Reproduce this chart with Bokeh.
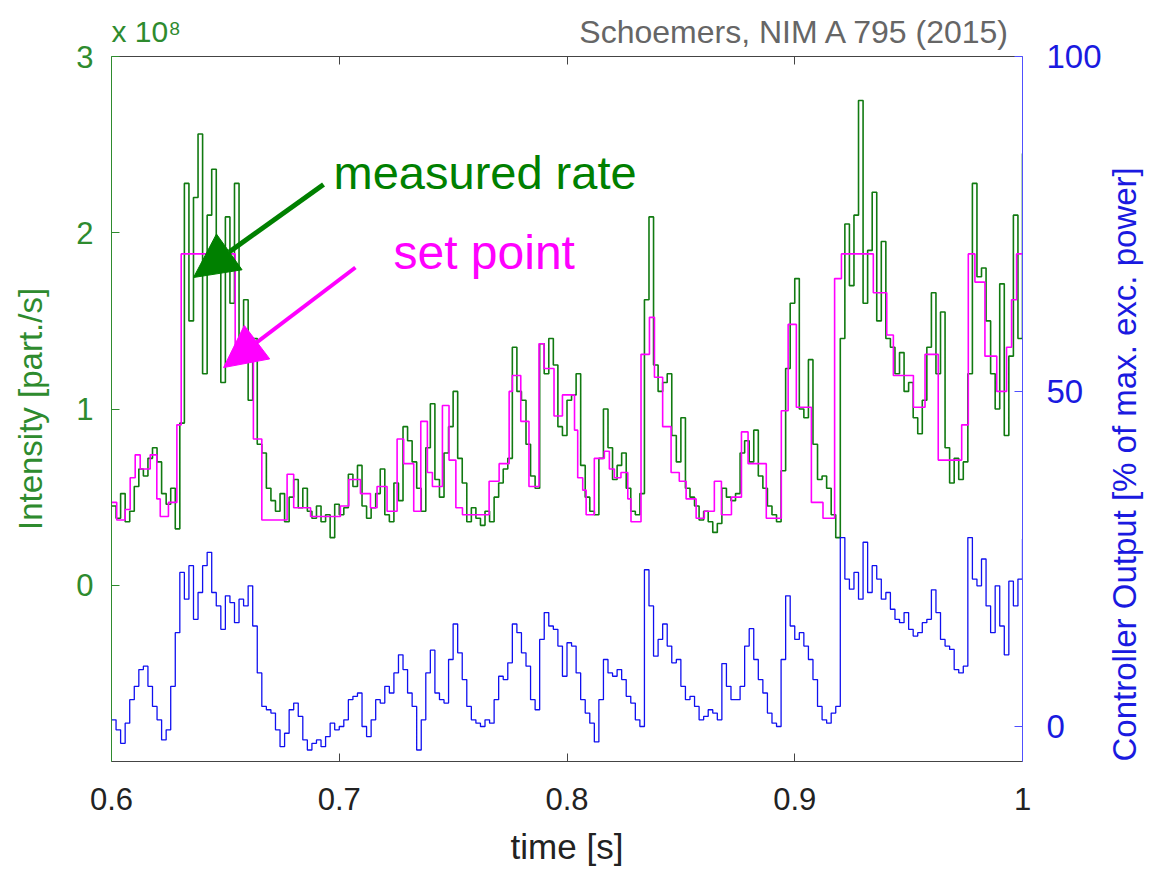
import math
from bokeh.plotting import figure
from bokeh.models import Range1d, LinearAxis, FixedTicker, Label, Arrow, NormalHead, Title
from bokeh.embed import file_html
from bokeh.resources import INLINE

# ---------------- data ----------------
# measured rate (units of 1e8 part./s), sampled every 2 ms from t = 0.600 s
measured = [
    0.45, 0.38, 0.52, 0.36, 0.42, 0.56, 0.66, 0.62, 0.72, 0.78, 0.70, 0.52, 0.46, 0.55, 0.32, 0.92, 2.28,
    1.50, 2.20, 2.56, 1.20, 2.10, 2.36, 1.90, 1.15, 2.09, 1.60, 2.28, 1.30, 1.62, 1.05, 1.40, 0.80, 0.75,
    0.55, 0.48, 0.42, 0.52, 0.36, 0.50, 0.60, 0.44, 0.55, 0.42, 0.38, 0.45, 0.36, 0.40, 0.27, 0.46, 0.40,
    0.44, 0.63, 0.56, 0.68, 0.45, 0.38, 0.44, 0.52, 0.66, 0.40, 0.36, 0.58, 0.48, 0.90, 0.82, 0.70,
    0.55, 0.42, 0.78, 1.03, 0.60, 0.50, 0.75, 0.90, 1.10, 0.72, 0.58, 0.36, 0.44, 0.38, 0.34, 0.42, 0.36,
    0.50, 0.58, 0.66, 0.72, 1.35, 1.10, 1.05, 0.80, 0.62, 0.55, 1.37, 1.20, 1.40, 1.25, 0.90, 0.85,
    1.05, 1.08, 1.20, 0.68, 0.50, 0.42, 0.40, 0.72, 1.00, 0.78, 0.60, 0.68, 0.75, 0.55, 0.42, 0.40, 0.52,
    1.62, 2.09, 1.25, 1.10, 1.15, 1.20, 0.85, 0.70, 0.95, 0.55, 0.50, 0.45, 0.37, 0.42, 0.36, 0.30,
    0.35, 0.55, 0.50, 0.48, 0.52, 0.75, 0.82, 0.70, 0.88, 0.62, 0.55, 0.45, 0.40, 0.36, 0.65, 1.23, 1.60,
    1.74, 1.00, 0.95, 1.28, 0.80, 0.60, 0.62, 0.55, 0.40, 0.27, 1.40, 2.05, 1.70, 2.10, 2.75, 1.60, 1.90,
    2.23, 1.50, 1.95, 1.40, 1.35, 1.20, 1.32, 1.10, 1.15, 0.95, 0.86, 1.05, 1.35, 1.66, 1.20, 1.55, 0.78,
    0.58, 0.72, 0.60, 0.70, 1.20, 2.28, 1.75, 1.80, 1.50, 1.20, 1.00, 1.71, 0.85, 1.30, 2.10, 1.40, 2.45,
]

# controller output (% of max. excitation power), sampled every 2 ms from t = 0.600 s
controller = [
    1.0, -0.5, -2.5, 0.5, 4.0, 6.0, 8.5, 9.0, 6.0, 3.0, 1.0, -2.0, -0.5, 6.0, 14.0, 23.0, 19.0,
    24.0, 16.0, 20.0, 24.0, 26.0, 20.0, 18.0, 14.5, 19.5, 18.5, 15.5, 19.0, 18.0, 21.0, 15.0, 8.0, 3.0,
    2.5, 2.0, -0.5, -3.0, -1.0, 2.5, 3.5, 1.5, -2.0, -3.5, -2.5, -2.0, -3.0, -1.5, 0.5, -0.5, 0.0,
    1.0, 4.0, 4.5, 5.0, 0.0, -1.5, 1.0, 4.0, 3.5, 6.0, 5.0, 8.0, 10.7, 8.5, 5.0, 3.0,
    -3.5, 1.0, 8.0, 11.4, 5.0, 4.0, 3.5, 10.0, 15.3, 11.0, 7.0, 3.0, 1.0, 0.5, 0.0, 1.0, 0.5,
    4.0, 7.5, 7.0, 9.5, 15.3, 14.0, 11.0, 9.0, 4.0, 2.5, 13.0, 17.0, 15.0, 14.5, 12.0, 7.5,
    12.5, 12.0, 8.0, 4.0, 2.0, 0.5, -2.3, 4.0, 10.0, 8.0, 7.5, 8.5, 7.0, 4.5, 3.5, 1.0, 0.0,
    23.4, 18.0, 10.5, 13.0, 15.3, 12.0, 9.5, 10.0, 6.0, 4.0, 4.5, 3.0, 1.0, 1.5, 2.5, 2.0,
    1.0, 9.4, 6.0, 4.0, 4.0, 6.0, 12.0, 14.6, 10.0, 7.0, 5.0, 2.0, 0.5, 0.0, 10.0, 19.5, 15.0,
    13.0, 14.0, 12.0, 10.0, 7.0, 3.0, 1.0, 0.5, 2.0, 3.0, 28.2, 22.0, 20.5, 23.0, 19.0, 27.5, 20.0,
    24.0, 22.0, 19.0, 20.0, 17.5, 16.0, 15.5, 17.0, 14.5, 13.5, 14.0, 15.5, 16.0, 20.4, 17.0, 13.0, 12.0,
    11.5, 8.5, 8.0, 9.0, 28.2, 22.0, 21.0, 25.0, 18.0, 14.0, 21.0, 15.0, 10.7, 21.7, 18.0, 22.0, 28.0,
]

# set point: step start times [s] and levels (1e8 part./s)
setpoint_t = [
    0.6000, 0.6023, 0.6060, 0.6082, 0.6104, 0.6126, 0.6170, 0.6199, 0.6214, 0.6250, 0.6287, 0.6306,
    0.6543, 0.6623, 0.6660,
    0.6771, 0.6800, 0.6874, 0.7005, 0.7042, 0.7093, 0.7137, 0.7166, 0.7210, 0.7254, 0.7283, 0.7327,
    0.7358, 0.7387, 0.7409, 0.7453, 0.7482, 0.7512, 0.7541, 0.7658, 0.7702, 0.7746, 0.7760, 0.7797,
    0.7833, 0.7877, 0.7899, 0.7943, 0.7980,
    0.8033, 0.8047, 0.8069, 0.8084, 0.8120, 0.8164, 0.8186, 0.8208, 0.8237, 0.8267, 0.8281, 0.8325,
    0.8362, 0.8384, 0.8420, 0.8457, 0.8493, 0.8523, 0.8567, 0.8603, 0.8647,
    0.8678, 0.8722, 0.8766, 0.8795, 0.8875, 0.8941, 0.8971, 0.9007, 0.9073, 0.9124, 0.9175, 0.9205,
    0.9345, 0.9404, 0.9433, 0.9521, 0.9572, 0.9630, 0.9733, 0.9762, 0.9791, 0.9835, 0.9887, 0.9930,
    0.9952, 0.9974, 1.0000,
]
setpoint_v = [
    0.47, 0.37, 0.43, 0.61, 0.74, 0.66, 0.74, 0.49, 0.39, 0.47, 0.91, 1.88,
    1.29, 0.83, 0.37,
    0.63, 0.44, 0.39, 0.45, 0.60, 0.52, 0.44, 0.56, 0.42, 0.83, 0.69, 0.42,
    0.93, 0.64, 0.56, 1.02, 0.71, 0.44, 0.40, 0.59, 0.69, 1.10, 1.19, 0.93,
    0.56, 1.37, 1.23, 0.96, 1.08,
    0.88, 0.61, 0.54, 0.40, 0.72, 0.76, 0.66, 0.61, 0.64, 0.49, 0.36, 1.31,
    1.52, 1.18, 0.90, 0.64, 0.59, 0.49, 0.38, 0.42, 0.59,
    0.40, 0.50, 0.87, 0.69, 0.38, 0.99, 1.48, 1.01, 0.47, 0.38, 1.74, 1.88,
    1.66, 1.42, 1.19, 1.01, 1.31, 0.71, 0.91, 1.88, 1.72, 1.30, 1.10, 1.35,
    1.62, 1.88, 1.88,
]

x_ticks = [0.6, 0.7, 0.8, 0.9, 1.0]
x_tick_labels = ["0.6", "0.7", "0.8", "0.9", "1"]
left_ticks = [0, 1, 2, 3]
right_ticks = [0, 50, 100]

t_meas = [round(0.6 + 0.002 * i, 3) for i in range(len(measured))]
t_ctrl = [round(0.6 + 0.002 * i, 3) for i in range(len(controller))]

# ---------------- style ----------------
FONT = "Liberation Sans"
GREEN_LINE = "#117a11"
GREEN_TXT = "#2e8b2e"
GREEN_ANN = "#008000"
MAGENTA = "#ff00ff"
BLUE_LINE = "#1010f0"
BLUE_TXT = "#1a1ae0"
BLUE_AXIS = "#5050ff"
GREY_AXIS = "#444444"

p = figure(width=1165, height=871,
           x_range=Range1d(0.6, 1.0), y_range=Range1d(-1, 3),
           output_backend="svg", toolbar_location=None,
           min_border_left=111, min_border_right=143,
           min_border_top=56, min_border_bottom=110)
p.extra_y_ranges = {"ctrl": Range1d(-5.22, 100)}
p.outline_line_color = None
p.xgrid.visible = False
p.ygrid.visible = False
p.background_fill_color = "white"
p.border_fill_color = "white"

# series
p.step(t_meas, measured, mode="after", line_color=GREEN_LINE, line_width=1.6)
p.step(t_ctrl, controller, mode="after", line_color=BLUE_LINE, line_width=1.3, y_range_name="ctrl")
p.step(setpoint_t, setpoint_v, mode="after", line_color=MAGENTA, line_width=1.6)

# bottom axis
xa = p.xaxis[0]
xa.ticker = FixedTicker(ticks=x_ticks)
xa.major_label_overrides = {k: v for k, v in zip(x_ticks, x_tick_labels)}
xa.axis_line_color = GREY_AXIS
xa.major_tick_line_color = GREY_AXIS
xa.major_tick_in = 8
xa.major_tick_out = 0
xa.minor_tick_line_color = None
xa.major_label_text_font = FONT
xa.major_label_text_font_size = "31px"
xa.major_label_text_color = "#222222"
xa.major_label_standoff = 26
xa.axis_label = "time [s]"
xa.axis_label_text_font = FONT
xa.axis_label_text_font_size = "35px"
xa.axis_label_text_font_style = "normal"
xa.axis_label_text_color = "#222222"
xa.axis_label_standoff = 14

# left axis
ya = p.yaxis[0]
ya.ticker = FixedTicker(ticks=left_ticks)
ya.axis_line_color = GREEN_TXT
ya.major_tick_line_color = GREEN_TXT
ya.major_tick_in = 8
ya.major_tick_out = 0
ya.minor_tick_line_color = None
ya.major_label_text_font = FONT
ya.major_label_text_font_size = "31px"
ya.major_label_text_color = GREEN_TXT
ya.major_label_standoff = 18
ya.axis_label = "Intensity [part./s]"
ya.axis_label_text_font = FONT
ya.axis_label_text_font_size = "33px"
ya.axis_label_text_font_style = "normal"
ya.axis_label_text_color = GREEN_TXT
ya.axis_label_standoff = 24

# top axis (ticks only)
top = LinearAxis(ticker=FixedTicker(ticks=[0.7, 0.8, 0.9]),
                 major_label_overrides={0.7: "", 0.8: "", 0.9: ""},
                 major_label_text_font_size="1px", major_label_standoff=0,
                 axis_line_color=GREY_AXIS, major_tick_line_color=GREY_AXIS,
                 major_tick_in=8, major_tick_out=0, minor_tick_line_color=None)
p.add_layout(top, "above")

# right axis
ra = LinearAxis(y_range_name="ctrl", ticker=FixedTicker(ticks=right_ticks),
                axis_line_color=BLUE_AXIS, major_tick_line_color=BLUE_AXIS,
                major_tick_in=8, major_tick_out=0, minor_tick_line_color=None,
                major_label_text_font=FONT, major_label_text_font_size="33px",
                major_label_text_color=BLUE_TXT, major_label_standoff=24,
                axis_label="Controller Output [% of max. exc. power]",
                axis_label_text_font=FONT, axis_label_text_font_size="33px",
                axis_label_text_font_style="normal", axis_label_text_color=BLUE_TXT,
                axis_label_standoff=20, axis_label_orientation=math.pi / 2)
try:
    ra.axis_label_align = "start"
except Exception:
    pass
p.add_layout(ra, "right")

# citation (right aligned) and exponent (left aligned, pulled down into the same band)
p.add_layout(Title(text="Schoemers, NIM A 795 (2015)", align="right", text_font=FONT,
                   text_font_size="32px", text_font_style="normal", text_color="#666666",
                   offset=11, standoff=13), "above")
p.add_layout(Title(text="x 10\u2078", align="left", text_font=FONT,
                   text_font_size="30px", text_font_style="normal", text_color=GREEN_TXT,
                   offset=0, standoff=-84), "above")

# annotations
p.add_layout(Label(x=0.6975, y=2.189, text="measured rate", text_font=FONT,
                   text_font_size="47px", text_color=GREEN_ANN))
p.add_layout(Label(x=0.7238, y=1.74, text="set point", text_font=FONT,
                   text_font_size="48px", text_color=MAGENTA))

# arrows
p.add_layout(Arrow(end=NormalHead(size=44, fill_color=GREEN_ANN, line_color=GREEN_ANN),
                   x_start=0.6931, y_start=2.274, x_end=0.636, y_end=1.746,
                   line_color=GREEN_ANN, line_width=5))
p.add_layout(Arrow(end=NormalHead(size=42, fill_color=MAGENTA, line_color=MAGENTA),
                   x_start=0.7071, y_start=1.803, x_end=0.6492, y_end=1.235,
                   line_color=MAGENTA, line_width=4))

open("out.html", "w").write(file_html(p, INLINE))
